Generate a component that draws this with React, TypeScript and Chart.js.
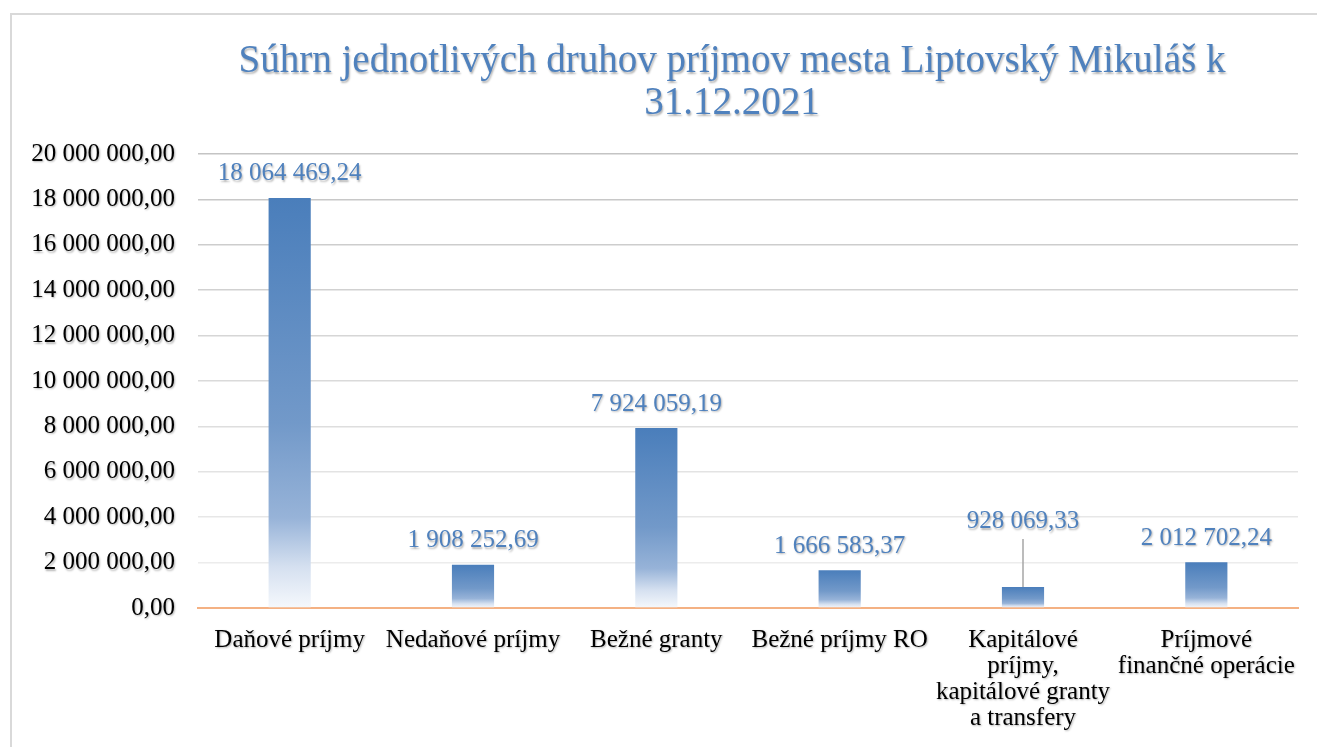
import React, { useEffect, useRef } from "react";
import { Chart, registerables } from "chart.js";

Chart.register(...registerables);

const titleLines = ["Súhrn jednotlivých druhov príjmov mesta Liptovský Mikuláš k", "31.12.2021"];
const categories: (string | string[])[] = [
  "Daňové príjmy",
  "Nedaňové príjmy",
  "Bežné granty",
  "Bežné príjmy RO",
  ["Kapitálové", "príjmy,", "kapitálové granty", "a transfery"],
  ["Príjmové", "finančné operácie"],
];
const values = [18064469.24, 1908252.69, 7924059.19, 1666583.37, 928069.33, 2012702.24];
const yMin = 0;
const yMax = 20000000;
const yStep = 2000000;

const FONT = '"Liberation Serif", "Times New Roman", serif';
const BLUE = "#4f81bd";

function fmt(v: number): string {
  const [i, d] = Math.abs(v).toFixed(2).split(".");
  const g = i.replace(/\B(?=(\d{3})+(?!\d))/g, " ");
  return (v < 0 ? "-" : "") + g + "," + d;
}

function mix(a: number[], b: number[], t: number) {
  const c = a.map((x, k) => Math.round(x + (b[k] - x) * t));
  return `rgb(${c[0]},${c[1]},${c[2]})`;
}

const decorPlugin = {
  id: "decor",
  beforeDraw(chart: any) {
    const ctx = chart.ctx;
    ctx.save();
    ctx.strokeStyle = "#d9d9d9";
    ctx.lineWidth = 2;
    ctx.beginPath();
    ctx.moveTo(11, chart.height);
    ctx.lineTo(11, 14);
    ctx.lineTo(chart.width, 14);
    ctx.stroke();
    ctx.restore();
  },
  afterDatasetsDraw(chart: any) {
    const ctx = chart.ctx;
    const meta = chart.getDatasetMeta(0);
    const lifts: Record<number, number> = { 4: 65 };
    ctx.shadowColor = "rgba(0,0,0,0.3)";
    ctx.shadowOffsetX = 1;
    ctx.shadowOffsetY = 1.5;
    ctx.shadowBlur = 2;
    ctx.save();
    ctx.font = `25px ${FONT}`;
    ctx.fillStyle = BLUE;
    ctx.textAlign = "center";
    ctx.textBaseline = "middle";
    meta.data.forEach((el: any, i: number) => {
      const lift = lifts[i] ?? 24;
      const y = el.y - lift;
      if (lifts[i]) {
        ctx.save();
        ctx.shadowColor = "transparent";
        ctx.strokeStyle = "#a6a6a6";
        ctx.lineWidth = 1.5;
        ctx.beginPath();
        ctx.moveTo(el.x, y + 17);
        ctx.lineTo(el.x, el.y);
        ctx.stroke();
        ctx.restore();
      }
      ctx.fillText(fmt(values[i]), el.x, y);
    });
    ctx.restore();
  },
  afterDraw(chart: any) {
    const ctx = chart.ctx;
    ctx.save();
    ctx.font = `39px ${FONT}`;
    ctx.fillStyle = BLUE;
    ctx.textAlign = "center";
    ctx.textBaseline = "alphabetic";
    const cx = 732;
    titleLines.forEach((t, k) => ctx.fillText(t, cx, 72 + k * 42));
    ctx.restore();
    ctx.shadowColor = "transparent";
    ctx.shadowOffsetX = 0;
    ctx.shadowOffsetY = 0;
    ctx.shadowBlur = 0;
  },
};

export default function App() {
  const ref = useRef<HTMLCanvasElement | null>(null);
  useEffect(() => {
    if (!ref.current) return;
    const chart = new Chart(ref.current, {
      type: "bar",
      data: {
        labels: categories,
        datasets: [
          {
            data: values,
            backgroundColor: (c: any) => {
              const chart = c.chart;
              if (!chart.chartArea || c.type !== "data") return "#4a7ebb";
              const ys = chart.scales.y;
              const top = ys.getPixelForValue(c.raw);
              const bot = ys.getPixelForValue(0);
              const g = chart.ctx.createLinearGradient(0, top, 0, bot);
              g.addColorStop(0, "#4a7ebb");
              g.addColorStop(0.55, "#7299c9");
              g.addColorStop(0.78, "#97b3d8");
              g.addColorStop(0.9, "#d5e0f0");
              g.addColorStop(1, "#f5f8fc");
              return g;
            },
            borderWidth: 0,
            categoryPercentage: 1,
            barPercentage: 0.23,
          },
        ],
      },
      options: {
        responsive: false,
        animation: false,
        layout: { padding: { left: 0, right: 19, top: 154, bottom: 0 } },
        plugins: { legend: { display: false }, tooltip: { enabled: false }, title: { display: false } },
        scales: {
          x: {
            grid: { display: false },
            border: { display: true, color: "#f4b183", width: 2 },
            ticks: {
              color: "#000",
              font: { family: FONT, size: 25, lineHeight: 1.04 },
              maxRotation: 0,
              autoSkip: false,
              padding: 11,
              z: 1,
            },
            afterFit: (s: any) => {
              s.height = 139;
            },
          },
          y: {
            min: yMin,
            max: yMax,
            grid: {
              drawTicks: false,
              lineWidth: 1.5,
              color: (c: any) => {
                const t = (c.tick?.value ?? 0) / yMax;
                return mix([240, 240, 240], [196, 196, 196], t);
              },
            },
            border: { display: false },
            ticks: {
              stepSize: yStep,
              color: "#000",
              padding: 23,
              font: { family: FONT, size: 25 },
              callback: (v: any) => fmt(Number(v)),
              z: 1,
            },
            afterFit: (s: any) => {
              s.width = 198;
            },
          },
        },
      },
      plugins: [decorPlugin],
    });
    return () => chart.destroy();
  }, []);
  return (
    <div style={{ position: "fixed", left: 0, top: 0, width: 1317, height: 747, background: "#fff" }}>
      <canvas ref={ref} width={1317} height={747} style={{ display: "block" }} />
    </div>
  );
}
